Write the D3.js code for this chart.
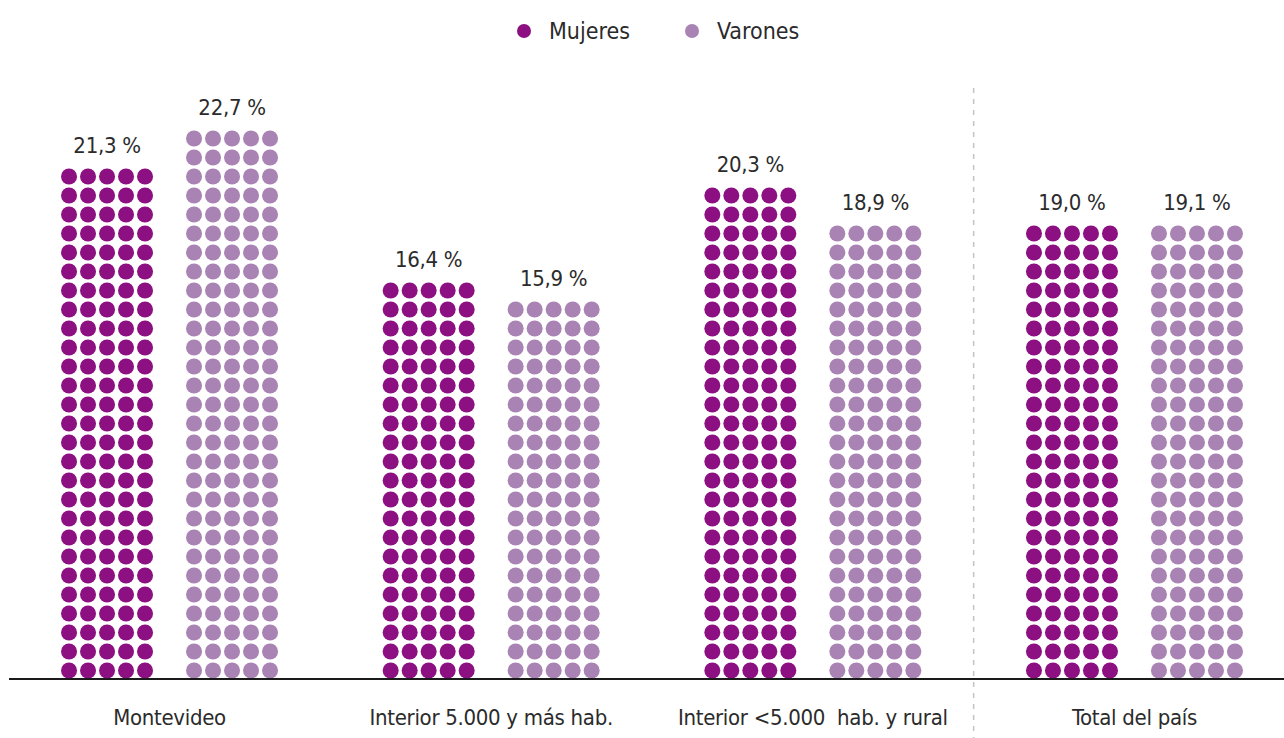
<!DOCTYPE html>
<html>
<head>
<meta charset="utf-8">
<script src="https://cdn.jsdelivr.net/npm/d3@7"></script>
<style>
  html, body { margin: 0; padding: 0; background: #fff; }
  svg text { font-family: "Liberation Sans Narrow", "DejaVu Sans Condensed", "Open Sans", sans-serif; fill: #2b2b2b; }
</style>
</head>
<body>
<svg id="chart" width="1284" height="738"></svg>
<script>
// ---- data ----
const categories = ["Montevideo", "Interior 5.000 y más hab.", "Interior <5.000  hab. y rural", "Total del país"];
const series = ["Mujeres", "Varones"];
const mujeres = [21.3, 16.4, 20.3, 19.0];
const varones = [22.7, 15.9, 18.9, 19.1];
const colors = { Mujeres: "#8c1081", Varones: "#a983b4" };

const width = 1284, height = 738;
const svg = d3.select("#chart").attr("viewBox", [0, 0, width, height]);

// layout
const baseline = 679;
const pitch = 19;      // dot spacing (both directions)
const radius = 8;
const cols = 5;

const x0 = d3.scaleBand().domain(categories).range([8.7, 1295.3]);
const x1 = d3.scalePoint().domain(series).range([-62.5, 62.5]);
// value (%) -> vertical extent in px
const y = d3.scaleLinear().domain([0, 25]).range([baseline, baseline - 25 * 24.1]);

const fmt = v => d3.format(".1f")(v).replace(".", ",") + " %";

const data = [];
categories.forEach((c, i) => {
  data.push({ cat: c, sex: "Mujeres", value: mujeres[i] });
  data.push({ cat: c, sex: "Varones", value: varones[i] });
});
data.forEach(d => {
  d.cx = x0(d.cat) + x0.bandwidth() / 2 + x1(d.sex);
  d.rows = Math.round((baseline - y(d.value)) / pitch);
});

// dashed separator before "Total del país"
svg.append("line")
  .attr("x1", x0(categories[3]) ).attr("x2", x0(categories[3]))
  .attr("y1", 88).attr("y2", height)
  .attr("stroke", "#c4c4c4")
  .attr("stroke-width", 1.5)
  .attr("stroke-dasharray", "5,6");

// dot columns
const groups = svg.append("g").selectAll("g.grp").data(data).join("g").attr("class", "grp");

groups.each(function(d) {
  const dots = [];
  for (let r = 0; r < d.rows; r++)
    for (let c = 0; c < cols; c++) dots.push({ r, c });
  d3.select(this).selectAll("circle").data(dots).join("circle")
    .attr("cx", p => d.cx + (p.c - (cols - 1) / 2) * pitch)
    .attr("cy", p => baseline - 8.5 - p.r * pitch)
    .attr("r", radius)
    .attr("fill", colors[d.sex]);
});

// value labels
groups.append("text")
  .attr("x", d => d.cx)
  .attr("y", d => baseline - 8.5 - (d.rows - 1) * pitch - 24)
  .attr("text-anchor", "middle")
  .attr("font-size", 22)
  .attr("letter-spacing", -0.3)
  .text(d => fmt(d.value));

// baseline axis
svg.append("line")
  .attr("x1", 9).attr("x2", width)
  .attr("y1", baseline).attr("y2", baseline)
  .attr("stroke", "#1a1a1a")
  .attr("stroke-width", 2);

// category labels
svg.append("g").selectAll("text").data(categories).join("text")
  .attr("x", d => x0(d) + x0.bandwidth() / 2)
  .attr("y", 725)
  .attr("text-anchor", "middle")
  .attr("font-size", 22)
  .attr("letter-spacing", -0.3)
  .style("white-space", "pre")
  .attr("xml:space", "preserve")
  .text(d => d);

// legend
const legendX = [524, 692];
const legend = svg.append("g").selectAll("g").data(series).join("g")
  .attr("transform", (d, i) => `translate(${legendX[i]},31)`);
legend.append("circle").attr("r", 7).attr("fill", d => colors[d]);
legend.append("text")
  .attr("x", 25).attr("y", 8)
  .attr("font-size", 23)
  .text(d => d);
</script>
</body>
</html>
